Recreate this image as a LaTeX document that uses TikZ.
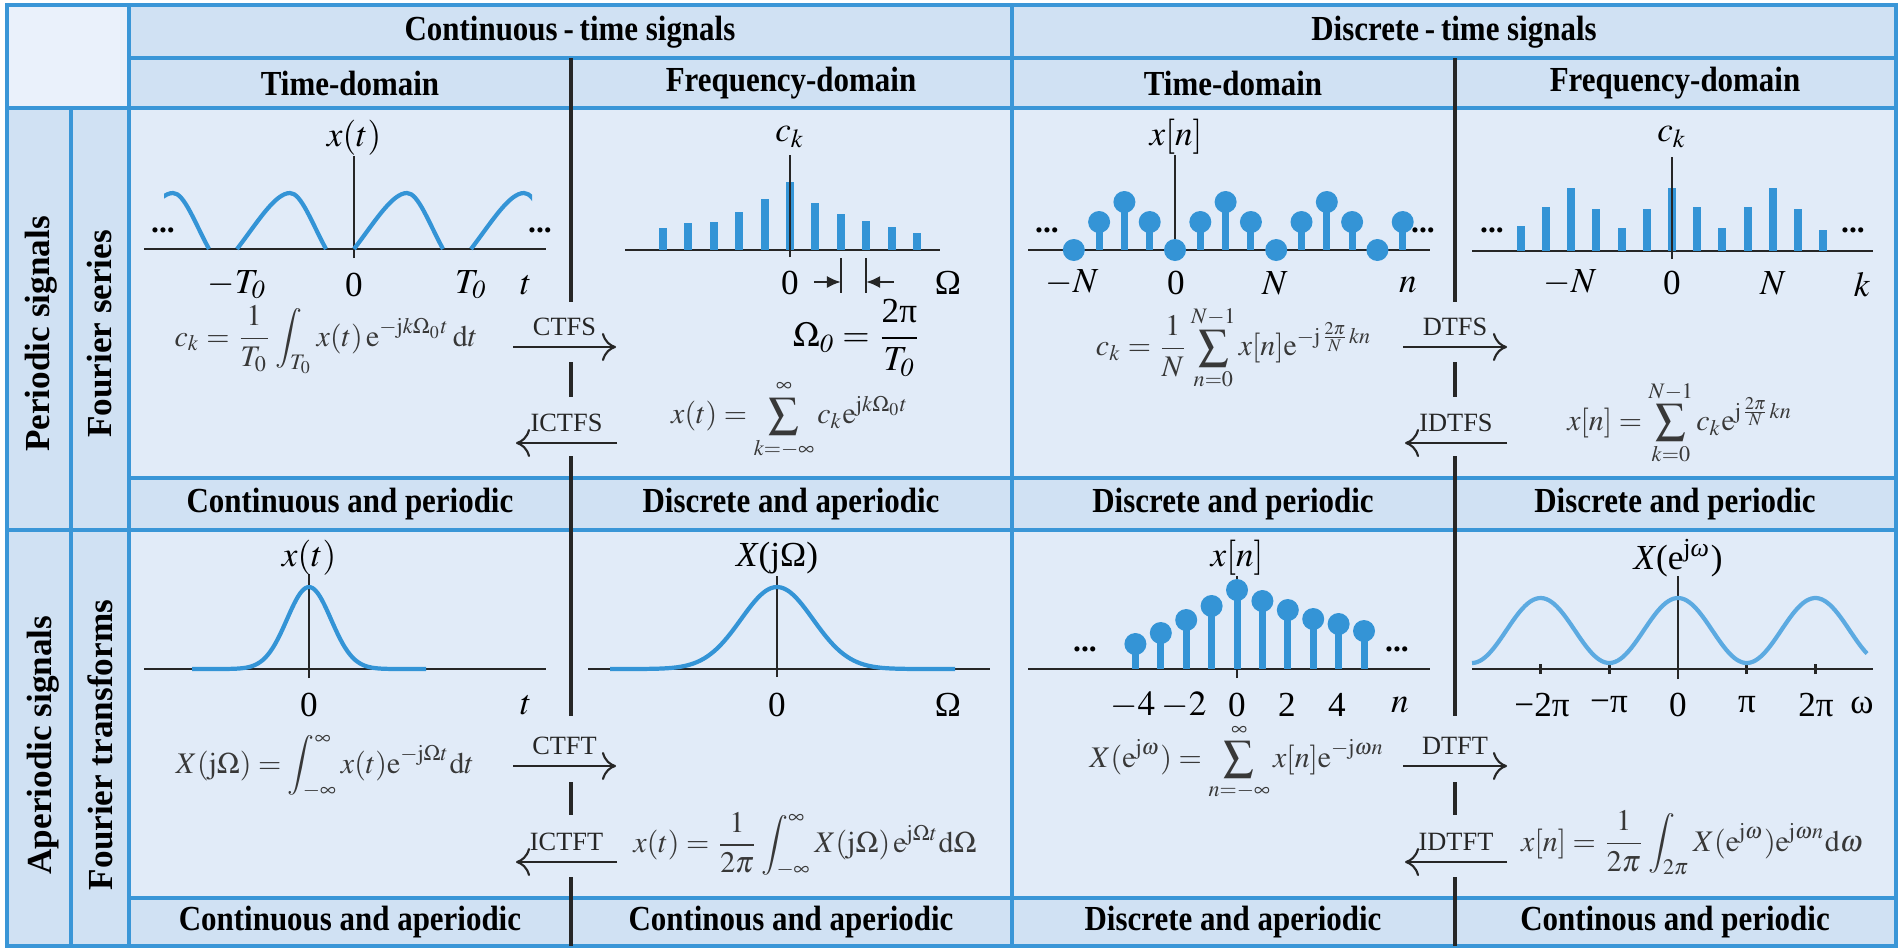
\documentclass[tikz,border=0pt]{standalone}
\usepackage{amsmath}
\usepackage{mathptmx}
\usepackage{fontspec}
\setmainfont{Liberation Serif}
\newfontfamily\headfont{Liberation Serif}[FakeStretch=0.88]
\usetikzlibrary{arrows.meta,positioning}
\definecolor{cellbg}{RGB}{225,235,248}
\definecolor{headbg}{RGB}{208,225,243}
\definecolor{cornerbg}{RGB}{234,241,251}
\definecolor{rulebl}{RGB}{58,150,215}
\definecolor{sigblue}{RGB}{52,148,214}
\definecolor{sigpale}{RGB}{92,170,225}
\newcommand{\fbar}[2]{\fill[sigblue] (#1-4,0) rectangle (#1+4,#2);}
\newcommand{\lolli}[2]{\fill[sigblue] (#1-3.5,0) rectangle (#1+3.5,#2); \fill[sigblue] (#1,#2) circle[radius=11];}
\newcommand{\bump}[1]{\draw[sigline] (#1,0) .. controls (#1+20,26) and (#1+38,56) .. (#1+53,56) .. controls (#1+64,56) and (#1+74,28) .. (#1+89,0);}

\begin{document}
\begin{tikzpicture}[x=0.01cm,y=-0.01cm,
	gridrule/.style={draw=rulebl,line width=1.3pt},
	blackrule/.style={draw=black!85,line width=1pt},
	headtext/.style={font=\headfont\bfseries\fontsize{10}{12}\selectfont,inner sep=0pt},
	sidetext/.style={font=\bfseries\fontsize{10}{12}\selectfont,inner sep=0pt,rotate=90},
	axisline/.style={draw=black!85,line width=0.8pt},
	sigline/.style={draw=sigblue,line width=1.2pt},
	ticklbl/.style={font=\fontsize{10}{12}\selectfont,inner sep=0pt},
	formula/.style={font=\fontsize{8.5}{10}\selectfont,text=black!78,inner sep=0pt},
	tflbl/.style={font=\fontsize{7.5}{9}\selectfont,text=black!85,inner sep=0pt},
	tfarrow/.style={draw=black!85,line width=0.6pt,-{To[length=4pt,width=8pt]}},
	dotlbl/.style={font=\bfseries\fontsize{9}{10}\selectfont,inner sep=0pt}]
	\useasboundingbox (0,0) rectangle (1900,948);
	\fill[cellbg] (7,5) rectangle (1896,946);
	\fill[headbg] (129,5) rectangle (1896,108) (129,478) rectangle (1896,530) (129,898) rectangle (1896,946) (7,108) rectangle (129,946);
	\fill[cornerbg] (7,5) rectangle (129,108);

	\begin{scope}[shift={(354,249)},yscale=-1]
		\draw[axisline] (-210,0) -- (192,0) (0,-9) -- (0,93);
		\begin{scope}
			\clip (-190,-5) rectangle (178,80);
			\foreach \tx in {-234,-117,0,117} {\bump{\tx}}
		\end{scope}
	\end{scope}
	\begin{scope}[shift={(790,250)},yscale=-1]
		\draw[axisline] (-165,0) -- (150,0);
		\foreach \kx/\hx in {-5/22,-4/27,-3/28,-2/38,-1/51,0/68,1/47,2/36,3/29,4/23,5/17} {\fbar{\kx*25.4}{\hx}}
		\draw[axisline] (0,-7) -- (0,95);
	\end{scope}
	\begin{scope}[shift={(1175,250)},yscale=-1]
		\draw[axisline] (-147,0) -- (255,0) (0,0) -- (0,95);
		\foreach \kx/\hx in {-4/0,-3/28,-2/48,-1/28,0/0,1/28,2/48,3/28,4/0,5/28,6/48,7/28,8/0,9/28} {\lolli{\kx*25.3}{\hx}}
	\end{scope}
	\begin{scope}[shift={(1672,251)},yscale=-1]
		\draw[axisline] (-200,0) -- (201,0);
		\foreach \kx/\hx in {-6/25,-5/44,-4/63,-3/42,-2/23,-1/42,0/63,1/44,2/23,3/44,4/63,5/42,6/21} {\fbar{\kx*25.2}{\hx}}
		\draw[axisline] (0,-8) -- (0,94);
	\end{scope}
	\begin{scope}[shift={(309,669)},yscale=-1]
		\draw[axisline] (-165,0) -- (237,0) (0,-9) -- (0,95);
		\draw[sigline] plot[domain=-117:117,samples=100,smooth] (\x,{82*exp(-(\x/22)^2/2)});
	\end{scope}
	\begin{scope}[shift={(777,669)},yscale=-1]
		\draw[axisline] (-189,0) -- (213,0) (0,-8) -- (0,93);
		\draw[sigline] plot[domain=-167:178,samples=100,smooth] (\x,{82*exp(-(\x/36)^2/2)});
	\end{scope}
	\begin{scope}[shift={(1237,669)},yscale=-1]
		\draw[axisline] (-209,0) -- (193,0) (0,-9) -- (0,93);
		\foreach \kx/\hx in {-4/25,-3/36,-2/49,-1/63,0/79,1/68,2/59,3/50,4/45,5/38} {\lolli{\kx*25.4}{\hx}}
	\end{scope}
	\begin{scope}[shift={(1678,669)},yscale=-1]
		\draw[axisline] (-206,0) -- (195,0) (0,-10) -- (0,93);
		\foreach \wx in {-2,-1,1,2} {\draw[axisline] (\wx*68.7,-5) -- (\wx*68.7,5);}
		\draw[sigline,draw=sigpale] plot[domain=-206:189,samples=150,smooth] (\x,{6+32.5*(1+cos(\x/68.7*180))});
	\end{scope}

	\draw[gridrule] (7,5) rectangle (1896,946);
	\draw[gridrule] (129,58) -- (1896,58) (7,108) -- (1896,108) (129,478) -- (1896,478) (7,530) -- (1896,530) (129,898) -- (1896,898);
	\draw[gridrule] (71,108) -- (71,946) (129,5) -- (129,946) (1012,5) -- (1012,946);
	\foreach \xd in {571,1455} {\draw[blackrule] (\xd,58) -- (\xd,302) (\xd,362) -- (\xd,397) (\xd,456) -- (\xd,716) (\xd,782) -- (\xd,815) (\xd,877) -- (\xd,946);}

	\node[headtext] (ctsig) at (570,32) {Continuous\,-\,time signals};
	\node[headtext] (dtsig) at (1454,32) {Discrete\,-\,time signals};
	\node[headtext] (cttd) at (350,83) {Time-domain};
	\node[headtext] (ctfd) at (791,83) {Frequency-domain};
	\node[headtext] (dttd) at (1233,83) {Time-domain};
	\node[headtext] (dtfd) at (1675,83) {Frequency-domain};
	\node[headtext] (ctpclass) at (350,504) {Continuous and periodic};
	\node[headtext] (cfpclass) at (791,504) {Discrete and aperiodic};
	\node[headtext] (dtpclass) at (1233,504) {Discrete and periodic};
	\node[headtext] (dfpclass) at (1675,504) {Discrete and periodic};
	\node[headtext] (ctaclass) at (350,922) {Continuous and aperiodic};
	\node[headtext] (cfaclass) at (791,922) {Continous and aperiodic};
	\node[headtext] (dtaclass) at (1233,922) {Discrete and aperiodic};
	\node[headtext] (dfaclass) at (1675,922) {Continous and periodic};
	\node[sidetext] (persig) at (41,334) {Periodic signals};
	\node[sidetext] (fser) at (100,334) {Fourier series};
	\node[sidetext] (apersig) at (43,745) {Aperiodic signals};
	\node[sidetext] (ftrans) at (100,745) {Fourier transforms};

	\node[ticklbl] (xtp) at (354,138) {$x(t)$};
	\node[ticklbl] (ctpm) at (237,285) {$-T_{\mathit{0}}$};
	\node[ticklbl] (ctpz) at (354,285) {0};
	\node[ticklbl] (ctpp) at (471,285) {$T_{\mathit{0}}$};
	\node[ticklbl] (ctpt) at (526,285) {$t$};
	\node[dotlbl] (ctpdl) at (163,230) {...};
	\node[dotlbl] (ctpdr) at (540,230) {...};
	\node[ticklbl] (ckc) at (790,137) {$c_k$};
	\node[ticklbl] (cfpz) at (790,283) {0};
	\node[ticklbl] (cfpo) at (948,283) {Ω};
	\coordinate (omL) at (841,282);
	\coordinate (omR) at (866,282);
	\draw[axisline] (841,258) -- (841,293) (866,258) -- (866,293);
	\draw[axisline,-{Latex[length=4pt,width=3.5pt]}] (814,282) -- (omL);
	\draw[axisline,-{Latex[length=4pt,width=3.5pt]}] (894,282) -- (omR);
	\node[ticklbl] (omzero) at (857,338) {$\Omega_{\mathit{0}}=\dfrac{\text{2π}}{T_{\mathit{0}}}$};
	\node[ticklbl] (xnp) at (1176,137) {$x[n]$};
	\node[ticklbl] (dtpm) at (1072,283) {$-N$};
	\node[ticklbl] (dtpz) at (1176,283) {0};
	\node[ticklbl] (dtpp) at (1275,283) {$N$};
	\node[ticklbl] (dtpn) at (1408,285) {$n$};
	\node[dotlbl] (dtpdl) at (1047,230) {...};
	\node[dotlbl] (dtpdr) at (1423,230) {...};
	\node[ticklbl] (ckd) at (1672,137) {$c_k$};
	\node[ticklbl] (dfpm) at (1570,283) {$-N$};
	\node[ticklbl] (dfpz) at (1672,283) {0};
	\node[ticklbl] (dfpp) at (1773,283) {$N$};
	\node[ticklbl] (dfpk) at (1862,285) {$k$};
	\node[dotlbl] (dfpdl) at (1492,230) {...};
	\node[dotlbl] (dfpdr) at (1853,230) {...};
	\node[ticklbl] (xta) at (309,558) {$x(t)$};
	\node[ticklbl] (ctaz) at (309,705) {0};
	\node[ticklbl] (ctat) at (526,705) {$t$};
	\node[ticklbl] (xja) at (777,558) {\textit{X}(jΩ)};
	\node[ticklbl] (cfaz) at (777,705) {0};
	\node[ticklbl] (cfao) at (948,705) {Ω};
	\node[ticklbl] (xna) at (1237,558) {$x[n]$};
	\node[ticklbl] (dtam4) at (1133,705) {$-4$};
	\node[ticklbl] (dtam2) at (1184,705) {$-2$};
	\node[ticklbl] (dtaz) at (1237,705) {0};
	\node[ticklbl] (dtap2) at (1287,705) {2};
	\node[ticklbl] (dtap4) at (1337,705) {4};
	\node[ticklbl] (dtan) at (1400,705) {$n$};
	\node[dotlbl] (dtadl) at (1085,649) {...};
	\node[dotlbl] (dtadr) at (1397,649) {...};
	\node[ticklbl] (xea) at (1678,558) {\textit{X}(e\textsuperscript{j\textit{ω}})};
	\node[ticklbl] (dfam2) at (1542,705) {−2π};
	\node[ticklbl] (dfam1) at (1609,705) {−π};
	\node[ticklbl] (dfaz) at (1678,705) {0};
	\node[ticklbl] (dfap1) at (1747,705) {π};
	\node[ticklbl] (dfap2) at (1816,705) {2π};
	\node[ticklbl] (dfaw) at (1862,705) {ω};

	\node[formula] (ctfseq) at (326,340) {$\displaystyle c_k=\frac{1}{T_0}\int_{T_0}x(t)\,\mathrm{e}^{-\mathrm{j}k\Omega_0t}\,\mathrm{d}t$};
	\node[formula] (ictfseq) at (790,420) {$\displaystyle x(t)=\sum_{k=-\infty}^{\infty}c_k\mathrm{e}^{\mathrm{j}k\Omega_0t}$};
	\node[formula] (dtfseq) at (1234,348) {$\displaystyle c_k=\frac{1}{N}\sum_{n=0}^{N-1}x[n]\mathrm{e}^{-\mathrm{j}\frac{2\pi}{N}kn}$};
	\node[formula] (idtfseq) at (1680,423) {$\displaystyle x[n]=\sum_{k=0}^{N-1}c_k\mathrm{e}^{\mathrm{j}\frac{2\pi}{N}kn}$};
	\node[formula] (ctfteq) at (325,767) {$\displaystyle X(\mathrm{j}\Omega)=\int_{-\infty}^{\infty}x(t)\mathrm{e}^{-\mathrm{j}\Omega t}\mathrm{d}t$};
	\node[formula] (ictfteq) at (805,845) {$\displaystyle x(t)=\frac{1}{2\pi}\int_{-\infty}^{\infty}X(\mathrm{j}\Omega)\,\mathrm{e}^{\mathrm{j}\Omega t}\mathrm{d}\Omega$};
	\node[formula] (dtfteq) at (1237,762) {$\displaystyle X(\mathrm{e}^{\mathrm{j}\omega})=\sum_{n=-\infty}^{\infty}x[n]\mathrm{e}^{-\mathrm{j}\omega n}$};
	\node[formula] (idtfteq) at (1692,843) {$\displaystyle x[n]=\frac{1}{2\pi}\int_{2\pi}X(\mathrm{e}^{\mathrm{j}\omega})\mathrm{e}^{\mathrm{j}\omega n}\mathrm{d}\omega$};

	\coordinate (ctfsA) at (513,347); \coordinate (ctfsB) at (616,347);
	\coordinate (ictfsA) at (617,443); \coordinate (ictfsB) at (516,443);
	\coordinate (ctftA) at (513,766); \coordinate (ctftB) at (616,766);
	\coordinate (ictftA) at (617,862); \coordinate (ictftB) at (516,862);
	\coordinate (dtfsA) at (1403,347); \coordinate (dtfsB) at (1507,347);
	\coordinate (idtfsA) at (1507,443); \coordinate (idtfsB) at (1405,443);
	\coordinate (dtftA) at (1403,766); \coordinate (dtftB) at (1507,766);
	\coordinate (idtftA) at (1507,862); \coordinate (idtftB) at (1405,862);
	\draw[tfarrow] (ctfsA) -- node[tflbl,above=3pt] (ctfs) {CTFS} (ctfsB);
	\draw[tfarrow] (ictfsA) -- node[tflbl,above=3pt] (ictfs) {ICTFS} (ictfsB);
	\draw[tfarrow] (ctftA) -- node[tflbl,above=3pt] (ctft) {CTFT} (ctftB);
	\draw[tfarrow] (ictftA) -- node[tflbl,above=3pt] (ictft) {ICTFT} (ictftB);
	\draw[tfarrow] (dtfsA) -- node[tflbl,above=3pt] (dtfs) {DTFS} (dtfsB);
	\draw[tfarrow] (idtfsA) -- node[tflbl,above=3pt] (idtfs) {IDTFS} (idtfsB);
	\draw[tfarrow] (dtftA) -- node[tflbl,above=3pt] (dtft) {DTFT} (dtftB);
	\draw[tfarrow] (idtftA) -- node[tflbl,above=3pt] (idtft) {IDTFT} (idtftB);
\end{tikzpicture}
\end{document}
